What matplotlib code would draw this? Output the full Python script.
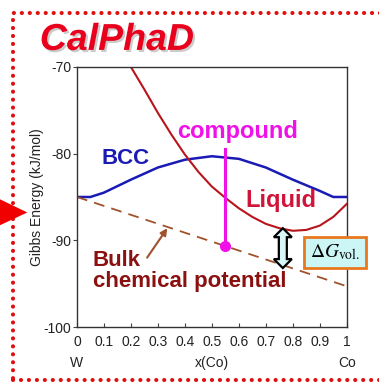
import matplotlib
matplotlib.use("Agg")
import matplotlib.pyplot as plt
import matplotlib.patheffects as pe
from matplotlib.patches import Rectangle, Polygon

plt.rcParams['font.family'] = ['Liberation Sans', 'DejaVu Sans']
plt.rcParams['axes.unicode_minus'] = False

# data
bcc_x = [0.0, 0.05, 0.1, 0.2, 0.3, 0.4, 0.5, 0.6, 0.7, 0.8, 0.9, 0.95, 1.0]
bcc_g = [-85.0, -85.0, -84.5, -83.0, -81.6, -80.7, -80.3, -80.6, -81.6, -83.0, -84.3, -85.0, -85.0]

liq_x = [0.2, 0.25, 0.3, 0.35, 0.4, 0.45, 0.5, 0.55, 0.6, 0.65, 0.7, 0.75, 0.8, 0.85, 0.9, 0.95, 1.0]
liq_g = [-70.0, -72.6, -75.3, -77.8, -80.1, -82.1, -83.8, -85.1, -86.3, -87.3, -88.1, -88.6, -88.9, -88.8, -88.3, -87.3, -85.8]

bulk_x = [0.0, 1.0]
bulk_g = [-85.0, -95.3]

compound_x = 0.55
compound_top = -79.5
compound_g = -90.7

dg_x = 0.763
dg_top = -88.6
dg_bottom = -93.2

xticks = [0, 0.1, 0.2, 0.3, 0.4, 0.5, 0.6, 0.7, 0.8, 0.9, 1]
xticklabels = ["0", "0.1", "0.2", "0.3", "0.4", "0.5", "0.6", "0.7", "0.8", "0.9", "1"]
yticks = [-100, -90, -80, -70]

fig = plt.figure(figsize=(3.79, 3.87), dpi=100)
ax = fig.add_axes([0.203, 0.155, 0.712, 0.672])

ax.plot(bcc_x, bcc_g, color="#1a1ab4", lw=1.8)
ax.plot(liq_x, liq_g, color="#b8141c", lw=1.5)
ax.plot(bulk_x, bulk_g, color="#a0522d", lw=1.3, ls=(0, (6, 4)))
ax.plot([compound_x, compound_x], [compound_top, compound_g], color="#f010e8", lw=2.2)
ax.plot([compound_x], [compound_g], "o", color="#f010e8", ms=7)

ax.set_xlim(0, 1)
ax.set_ylim(-100, -70)
ax.set_xticks(xticks)
ax.set_xticklabels(xticklabels)
ax.set_yticks(yticks)
ax.tick_params(axis="x", direction="in", length=3, labelsize=10, pad=6,
               labelcolor="#222222", color="#444444")
ax.tick_params(axis="y", direction="out", length=3, labelsize=10, pad=1,
               labelcolor="#222222", color="#444444")
for s in ax.spines.values():
    s.set_color("#333333")
    s.set_linewidth(1.0)

ax.set_ylabel("Gibbs Energy (kJ/mol)", fontsize=10, labelpad=0, color="#222222")
ax.text(0.5, -104.2, "x(Co)", ha="center", va="center", fontsize=10, color="#222222")
ax.text(0.0, -104.2, "W", ha="center", va="center", fontsize=10, color="#222222")
ax.text(1.0, -104.2, "Co", ha="center", va="center", fontsize=10, color="#222222")

# labels
ax.text(0.18, -81.2, "BCC", color="#1a1ab4", fontsize=16, fontweight="bold",
        ha="center", va="baseline")
ax.text(0.594, -78.2, "compound", color="#f010e8", fontsize=17, fontweight="bold",
        ha="center", va="baseline")
ax.text(0.755, -86.1, "Liquid", color="#d0143a", fontsize=17, fontweight="bold",
        ha="center", va="baseline")
ax.text(0.059, -93.0, "Bulk", color="#8b1010", fontsize=16,
        fontweight="bold", ha="left", va="baseline")
ax.text(0.059, -95.4, "chemical potential", color="#8b1010", fontsize=16,
        fontweight="bold", ha="left", va="baseline")

ax.annotate("", xy=(0.335, -88.6), xytext=(0.26, -92.0),
            arrowprops=dict(arrowstyle="-|>", color="#a0522d", lw=1.5,
                            mutation_scale=10, shrinkA=0, shrinkB=0))

# hollow double arrow for delta G, sized in pixels then mapped to data units
fig.canvas.draw()
px_x = 1.0 / ax.bbox.width            # data x per pixel
px_y = 30.0 / ax.bbox.height          # data y per pixel
shaft = 4.0 * px_x
head = 9.0 * px_x
head_len = 9.0 * px_y
outline = [
    (dg_x, dg_top),
    (dg_x + head, dg_top - head_len),
    (dg_x + shaft, dg_top - head_len),
    (dg_x + shaft, dg_bottom + head_len),
    (dg_x + head, dg_bottom + head_len),
    (dg_x, dg_bottom),
    (dg_x - head, dg_bottom + head_len),
    (dg_x - shaft, dg_bottom + head_len),
    (dg_x - shaft, dg_top - head_len),
    (dg_x - head, dg_top - head_len),
]
ax.add_patch(Polygon(outline, closed=True, fc="#d8f8f8", ec="black", lw=1.6,
                     joinstyle="miter", zorder=4))

ax.text(0.956, -91.4, r"$\Delta G_{\mathrm{vol.}}$", fontsize=14, ha="center",
        va="center", math_fontfamily="stix", clip_on=False,
        bbox=dict(boxstyle="square,pad=0.3", fc="#ccf6f6", ec="#e8781e", lw=2))

# title
fig.text(0.105, 0.871, "CalPhaD", color="#e8001c", fontsize=27, fontweight="bold",
         fontstyle="italic", ha="left", va="baseline",
         path_effects=[pe.withSimplePatchShadow(offset=(1.5, -1.5), shadow_rgbFace="#999999", alpha=0.5)])

# dotted frame
fig.patches.append(Rectangle((0.034, 0.018), 1.1, 0.948, transform=fig.transFigure,
                             fill=False, ec="#e01010", lw=3.0, ls=(0, (0.01, 1.9)),
                             capstyle="round", joinstyle="round"))
# red arrow head on the left
fig.patches.append(Polygon([[0.0, 0.485], [0.072, 0.451], [0.0, 0.418]],
                           closed=True, transform=fig.transFigure, fc="#f00000", ec="none"))

fig.savefig("out.png", dpi=100)
